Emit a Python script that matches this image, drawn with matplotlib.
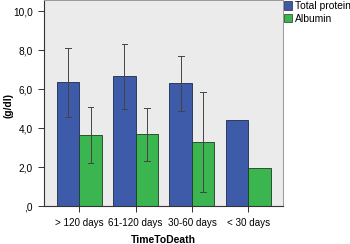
import matplotlib.pyplot as plt
import numpy as np
from matplotlib.patches import Patch

plt.rcParams['font.family'] = ['Liberation Sans', 'DejaVu Sans']

groups = ['> 120 days', '61-120 days', '30-60 days', '< 30 days']
total_protein = [6.36, 6.67, 6.30, 4.40]
tp_low = [4.60, 5.00, 4.87, None]
tp_high = [8.10, 8.34, 7.72, None]
albumin = [3.66, 3.71, 3.30, 1.98]
alb_low = [2.22, 2.34, 0.75, None]
alb_high = [5.09, 5.06, 5.86, None]

blue = '#3d5ba9'
green = '#3bb54f'

fig = plt.figure(figsize=(3.5, 2.44), dpi=100)
ax = fig.add_axes([0.127, 0.155, 0.682, 0.845])
ax.set_facecolor('#ebebeb')

x = np.arange(len(groups))
w = 0.4
ax.bar(x - w/2, total_protein, w, color=blue, edgecolor='#1f2a4a', linewidth=0.6, zorder=2)
ax.bar(x + w/2, albumin, w, color=green, edgecolor='#1f3a22', linewidth=0.6, zorder=2)

# error bars (only where available)
for xs, lo, hi in [(x - w/2, tp_low, tp_high), (x + w/2, alb_low, alb_high)]:
    for xi, l, h in zip(xs, lo, hi):
        if l is None:
            continue
        ax.plot([xi, xi], [l, h], color='#444444', lw=0.7, zorder=3)
        ax.plot([xi - 0.05, xi + 0.05], [h, h], color='#444444', lw=0.7, zorder=3)
        ax.plot([xi - 0.05, xi + 0.05], [l, l], color='#444444', lw=0.7, zorder=3)

ax.set_xlim(-0.62, 3.62)
ax.set_ylim(0, 10.58)
ax.set_yticks([0, 2, 4, 6, 8, 10])
ax.set_yticklabels([',0', '2,0', '4,0', '6,0', '8,0', '10,0'], fontsize=7.3)
ax.set_xticks(x)
ax.set_xticklabels(groups, fontsize=7.1)
ax.tick_params(length=4.5, width=0.7, color='#333333', pad=4)
ax.set_ylabel('(g/dl)', fontsize=7.3, fontweight='bold')
ax.set_xlabel('TimeToDeath', fontsize=7.5, fontweight='bold', labelpad=5)
ax.yaxis.set_label_coords(-0.128, 0.49)

for s in ['left', 'bottom']:
    ax.spines[s].set_color('#333333')
    ax.spines[s].set_linewidth(0.8)
for s in ['top', 'right']:
    ax.spines[s].set_color('#999999')
    ax.spines[s].set_linewidth(0.7)

handles = [Patch(facecolor=blue, edgecolor='#1f2a4a', lw=0.5, label='Total protein'),
           Patch(facecolor=green, edgecolor='#1f3a22', lw=0.5, label='Albumin')]
fig.legend(handles=handles, loc='upper left', bbox_to_anchor=(0.808, 1.0), frameon=False,
           fontsize=7.4, handlelength=0.75, handleheight=0.85, handletextpad=0.3,
           labelspacing=0.25, borderaxespad=0.0, borderpad=0.1)

fig.savefig('out.png', dpi=100)
